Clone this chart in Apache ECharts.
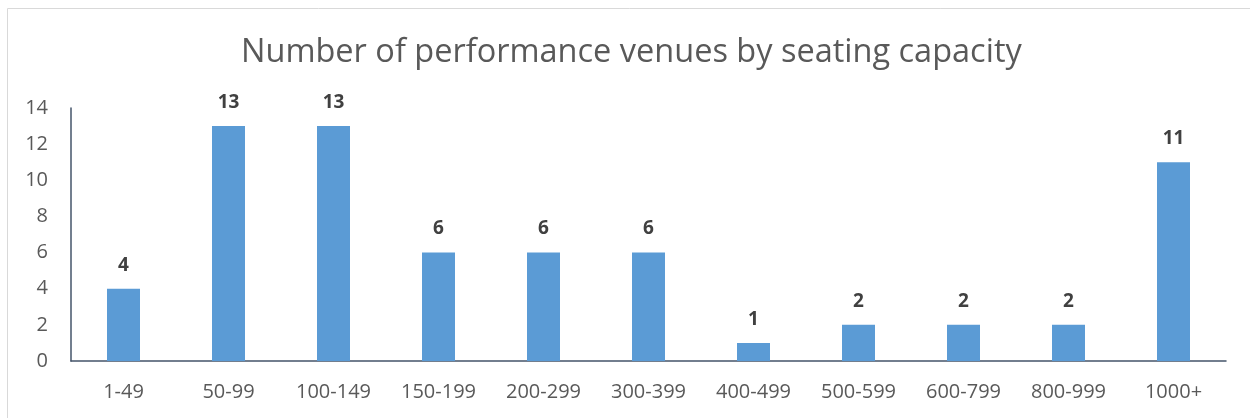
<!DOCTYPE html>
<html>
<head>
<meta charset="utf-8">
<script src="https://cdn.jsdelivr.net/npm/echarts@6/dist/echarts.min.js"></script>
<style>
  html, body { margin: 0; padding: 0; background: #fff; }
  #main { width: 1250px; height: 418px; }
</style>
</head>
<body>
<div id="main"></div>
<script>
var categories = ['1-49', '50-99', '100-149', '150-199', '200-299', '300-399', '400-499', '500-599', '600-799', '800-999', '1000+']
var venues = [4, 13, 13, 6, 6, 6, 1, 2, 2, 2, 11]
var yTicks = [0, 2, 4, 6, 8, 10, 12, 14]

var chart = echarts.init(document.getElementById('main'))
chart.setOption({
  animation: false,
  textStyle: { fontFamily: 'Open Sans' },
  graphic: [{
    type: 'rect',
    shape: { x: 7.5, y: 8.5, width: 1300, height: 500 },
    style: { fill: 'none', stroke: '#d9d9d9', lineWidth: 1 },
    silent: true
  }],
  title: {
    text: 'Number of performance venues by seating capacity',
    left: 236,
    top: 31,
    textStyle: { fontSize: 32.5, fontWeight: 'normal', color: '#595959', fontFamily: 'Open Sans' }
  },
  grid: { left: 71, right: 24, top: 108, bottom: 57, containLabel: false },
  xAxis: {
    type: 'category',
    data: categories,
    axisLine: { lineStyle: { color: '#44546a', width: 1.5 } },
    axisTick: { show: false },
    axisLabel: { color: '#595959', fontSize: 20, margin: 21 }
  },
  yAxis: {
    type: 'value',
    min: yTicks[0],
    max: yTicks[yTicks.length - 1],
    interval: 2,
    axisLine: { show: true, lineStyle: { color: '#44546a', width: 1.5 } },
    axisTick: { show: false },
    splitLine: { show: false },
    axisLabel: { color: '#595959', fontSize: 20, margin: 23 }
  },
  series: [{
    type: 'bar',
    data: venues,
    barWidth: 33,
    itemStyle: { color: '#5b9bd5' },
    label: {
      show: true,
      position: 'top',
      distance: 14,
      color: '#404040',
      fontSize: 19,
      fontWeight: 'bold'
    }
  }]
})
</script>
</body>
</html>
